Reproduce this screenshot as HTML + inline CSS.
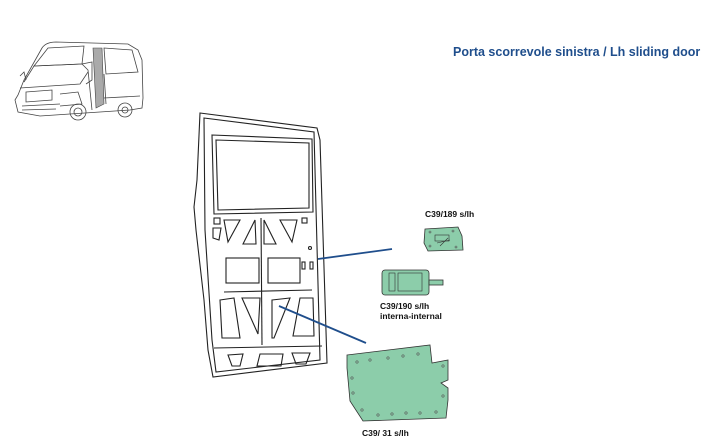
<!DOCTYPE html>
<html><head><meta charset="utf-8"><style>
html,body{margin:0;padding:0;background:#fff;width:720px;height:445px;overflow:hidden}
svg{display:block}
text{font-family:"Liberation Sans",Arial,sans-serif}
</style></head><body>
<svg width="720" height="445" viewBox="0 0 720 445" xmlns="http://www.w3.org/2000/svg">
<text x="453" y="56" font-size="12.5" font-weight="bold" fill="#1f4e8c">Porta scorrevole sinistra / Lh sliding door</text>

<!-- van -->
<g fill="none" stroke="#444" stroke-width="0.8">
<path d="M18,95 L24,80 L42,48 Q46,42 56,42 L128,44 L138,50 L142,60 L143,98 L142,108 L130,110 L40,116 L18,112 L15,100 Z"/>
<path d="M34,66 L48,48 L84,46 L82,64 Z"/>
<path d="M24,82 L34,66 L82,64 L88,70 L92,110"/>
<path d="M20,88 L80,84 L88,72"/>
<path d="M104,48 L132,50 L138,72 L106,74 Z"/>
<path d="M82,64 L92,62 L92,80 L86,84"/>
<path d="M26,92 L52,90 L52,100 L26,102 Z"/>
<path d="M22,106 L60,104 M22,110 L56,109"/>
<path d="M60,94 L78,92 L82,104 L60,106"/>
<circle cx="78" cy="112" r="8"/><circle cx="78" cy="112" r="4"/>
<circle cx="125" cy="110" r="7"/><circle cx="125" cy="110" r="3"/>
<path d="M104,74 L106,104 M140,96 L104,98"/>
<path d="M20,76 L24,72 L26,80"/>
</g>
<path d="M93,48 L102,48 L104,104 L96,108 Z" fill="#aaa" stroke="#444" stroke-width="0.6"/>

<!-- door -->
<g fill="none" stroke="#222" stroke-width="1.1">
<path d="M200,113 L317,128 L320,140 L327,363 L213,377 L208,350 L204,300 L196,230 L194,207 L197,180 Z"/>
<path d="M204,118 L314,132 L320,360 L216,372 L212,340 L205,230 Z"/>
<path d="M212,135 L312,139 L313,212 L214,214 Z"/>
<path d="M216,140 L309,143 L309,208 L218,210 Z"/>
<path d="M224,220 L240,220 L228,242 Z"/>
<path d="M243,244 L255,220 L256,244 Z"/>
<path d="M264,220 L276,244 L264,244 Z"/>
<path d="M280,220 L297,220 L292,242 Z"/>
<rect x="214" y="218" width="6" height="6"/><rect x="302" y="218" width="5" height="5"/>
<path d="M213,228 L221,228 L219,240 L213,238 Z"/>
<line x1="261" y1="218" x2="262" y2="345"/>
<rect x="226" y="258" width="33" height="25"/>
<rect x="268" y="258" width="32" height="25"/>
<rect x="302" y="262" width="3" height="7"/><rect x="310" y="262" width="3" height="7"/>
<circle cx="310" cy="248" r="1.5"/>
<path d="M224,292 L312,290"/>
<path d="M220,300 L234,298 L240,338 L222,338 Z"/>
<path d="M242,298 L260,298 L258,334 Z"/>
<path d="M272,300 L290,298 L274,338 L272,338 Z"/>
<path d="M300,298 L313,298 L314,336 L293,336 Z"/>
<path d="M214,348 L322,346"/>
<path d="M228,355 L243,354 L240,366 L232,366 Z"/>
<path d="M260,354 L283,354 L281,366 L257,366 Z"/>
<path d="M292,353 L310,353 L306,364 L296,364 Z"/>
</g>

<!-- leader lines -->
<g stroke="#1f4e8c" stroke-width="1.8">
<line x1="318" y1="259" x2="392" y2="249"/>
<line x1="279" y1="306" x2="366" y2="343"/>
</g>

<!-- parts -->
<g fill="#8ccdaa" stroke="#333" stroke-width="0.8">
<path d="M425,229 L458,227 L462,236 L463,250 L428,251 L424,243 Z"/>
<rect x="382" y="270" width="47" height="25" rx="3"/>
<rect x="429" y="280" width="14" height="5"/>
<path d="M347,355 L430,345 L432,363 L448,360 L448,380 L441,383 L448,388 L448,400 L446,418 L363,421 L350,401 L347,368 Z"/>
</g>
<g fill="none" stroke="#333" stroke-width="0.6">
<rect x="389" y="273" width="6" height="18"/><rect x="398" y="273" width="24" height="18"/>
<rect x="435" y="235" width="14" height="6"/>
<path d="M437,243 L450,240 M440,246 L448,238"/>
</g>
<g fill="none" stroke="#555" stroke-width="0.6">
<circle cx="357" cy="362" r="1.2"/><circle cx="370" cy="360" r="1.2"/><circle cx="388" cy="358" r="1.2"/><circle cx="403" cy="356" r="1.2"/><circle cx="418" cy="354" r="1.2"/>
<circle cx="352" cy="378" r="1.2"/><circle cx="353" cy="393" r="1.2"/><circle cx="362" cy="410" r="1.2"/>
<circle cx="378" cy="415" r="1.2"/><circle cx="392" cy="414" r="1.2"/><circle cx="406" cy="413" r="1.2"/><circle cx="420" cy="413" r="1.2"/><circle cx="436" cy="412" r="1.2"/>
<circle cx="443" cy="366" r="1.2"/><circle cx="443" cy="396" r="1.2"/>
<circle cx="430" cy="232" r="1"/><circle cx="453" cy="231" r="1"/><circle cx="430" cy="246" r="1"/><circle cx="456" cy="247" r="1"/>
</g>

<g font-size="8.5" font-weight="bold" fill="#111">
<text x="425" y="217">C39/189 s/lh</text>
<text x="380" y="309">C39/190 s/lh</text>
<text x="380" y="319">interna-internal</text>
<text x="362" y="436">C39/ 31 s/lh</text>
</g>
</svg>
</body></html>
